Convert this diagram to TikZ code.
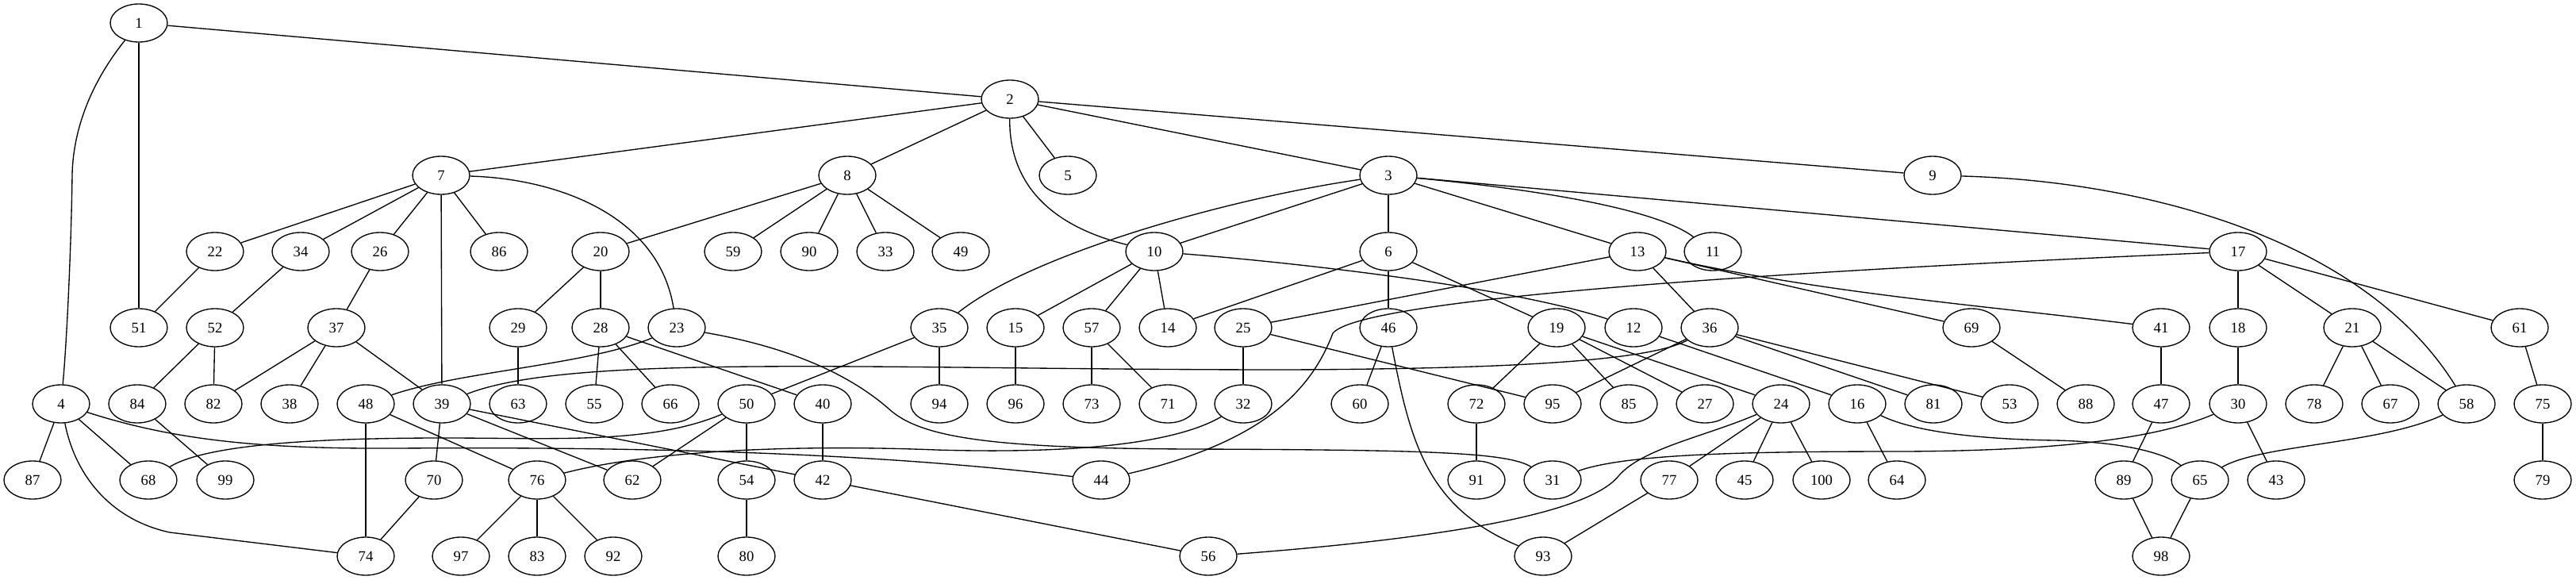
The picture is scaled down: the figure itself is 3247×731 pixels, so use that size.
\documentclass[tikz,border=0pt]{standalone}
\usepackage{fontspec}
\setmainfont{Liberation Serif}
\usetikzlibrary{shapes, positioning}

\begin{document}
\begin{tikzpicture}
  [x=0.75pt, y=-0.75pt, line width=1pt,
  vert/.style={ellipse,draw,minimum width=54pt,minimum height=36pt,inner sep=0pt,
    font=\fontsize{14}{16}\selectfont}]

  \useasboundingbox (0,0) rectangle (3247,731);
  \fill[white] (0,0) rectangle (3247,731);

  % rank 0 - 2
  \node[vert] (n1) at (175,29) {1};
  \node[vert] (n2) at (1273,125) {2};
  \node[vert] (n7) at (556,221) {7};
  \node[vert] (n8) at (1068,221) {8};
  \node[vert] (n5) at (1346,221) {5};
  \node[vert] (n3) at (1750,221) {3};
  \node[vert] (n9) at (2436,221) {9};

  % rank 3
  \node[vert] (n22) at (271,317) {22};
  \node[vert] (n34) at (379,317) {34};
  \node[vert] (n26) at (479,317) {26};
  \node[vert] (n86) at (629,317) {86};
  \node[vert] (n20) at (757,317) {20};
  \node[vert] (n59) at (924,317) {59};
  \node[vert] (n90) at (1020,317) {90};
  \node[vert] (n33) at (1116,317) {33};
  \node[vert] (n49) at (1211,317) {49};
  \node[vert] (n10) at (1455,317) {10};
  \node[vert] (n6) at (1750,317) {6};
  \node[vert] (n13) at (2064,317) {13};
  \node[vert] (n11) at (2159,317) {11};
  \node[vert] (n17) at (2821,317) {17};

  % rank 4
  \node[vert] (n51) at (175,413) {51};
  \node[vert] (n52) at (271,413) {52};
  \node[vert] (n37) at (424,413) {37};
  \node[vert] (n29) at (653,413) {29};
  \node[vert] (n28) at (757,413) {28};
  \node[vert] (n23) at (853,413) {23};
  \node[vert] (n35) at (1184,413) {35};
  \node[vert] (n15) at (1280,413) {15};
  \node[vert] (n57) at (1376,413) {57};
  \node[vert] (n14) at (1472,413) {14};
  \node[vert] (n25) at (1567,413) {25};
  \node[vert] (n46) at (1750,413) {46};
  \node[vert] (n19) at (1962,413) {19};
  \node[vert] (n12) at (2059,413) {12};
  \node[vert] (n36) at (2155,413) {36};
  \node[vert] (n69) at (2485,413) {69};
  \node[vert] (n41) at (2724,413) {41};
  \node[vert] (n18) at (2821,413) {18};
  \node[vert] (n21) at (2965,413) {21};
  \node[vert] (n61) at (3176,413) {61};

  % rank 5
  \node[vert] (n4) at (77,509) {4};
  \node[vert] (n84) at (173,509) {84};
  \node[vert] (n82) at (269,509) {82};
  \node[vert] (n38) at (365,509) {38};
  \node[vert] (n48) at (461,509) {48};
  \node[vert] (n39) at (557,509) {39};
  \node[vert] (n63) at (653,509) {63};
  \node[vert] (n55) at (749,509) {55};
  \node[vert] (n66) at (845,509) {66};
  \node[vert] (n50) at (941,509) {50};
  \node[vert] (n40) at (1037,509) {40};
  \node[vert] (n94) at (1184,509) {94};
  \node[vert] (n96) at (1280,509) {96};
  \node[vert] (n73) at (1376,509) {73};
  \node[vert] (n71) at (1472,509) {71};
  \node[vert] (n32) at (1567,509) {32};
  \node[vert] (n60) at (1714,509) {60};
  \node[vert] (n72) at (1861,509) {72};
  \node[vert] (n95) at (1957,509) {95};
  \node[vert] (n85) at (2053,509) {85};
  \node[vert] (n27) at (2149,509) {27};
  \node[vert] (n24) at (2245,509) {24};
  \node[vert] (n16) at (2341,509) {16};
  \node[vert] (n81) at (2437,509) {81};
  \node[vert] (n53) at (2533,509) {53};
  \node[vert] (n88) at (2629,509) {88};
  \node[vert] (n47) at (2724,509) {47};
  \node[vert] (n30) at (2821,509) {30};
  \node[vert] (n78) at (2917,509) {78};
  \node[vert] (n67) at (3013,509) {67};
  \node[vert] (n58) at (3109,509) {58};
  \node[vert] (n75) at (3205,509) {75};

  % rank 6
  \node[vert] (n87) at (41,605) {87};
  \node[vert] (n68) at (187,605) {68};
  \node[vert] (n99) at (284,605) {99};
  \node[vert] (n70) at (547,605) {70};
  \node[vert] (n76) at (677,605) {76};
  \node[vert] (n62) at (797,605) {62};
  \node[vert] (n54) at (941,605) {54};
  \node[vert] (n42) at (1037,605) {42};
  \node[vert] (n44) at (1388,605) {44};
  \node[vert] (n91) at (1861,605) {91};
  \node[vert] (n31) at (1957,605) {31};
  \node[vert] (n77) at (2104,605) {77};
  \node[vert] (n45) at (2199,605) {45};
  \node[vert] (n100) at (2296,605) {100};
  \node[vert] (n64) at (2391,605) {64};
  \node[vert] (n89) at (2677,605) {89};
  \node[vert] (n65) at (2773,605) {65};
  \node[vert] (n43) at (2869,605) {43};
  \node[vert] (n79) at (3205,605) {79};

  % rank 7
  \node[vert] (n74) at (461,701) {74};
  \node[vert] (n97) at (581,701) {97};
  \node[vert] (n83) at (677,701) {83};
  \node[vert] (n92) at (773,701) {92};
  \node[vert] (n80) at (941,701) {80};
  \node[vert] (n56) at (1523,701) {56};
  \node[vert] (n93) at (1945,701) {93};
  \node[vert] (n98) at (2724,701) {98};

  % straight edges
  \draw (n1) edge (n2) edge (n51);
  \draw (n2) edge (n7) edge (n8) edge (n5) edge (n3) edge (n9);
  \draw (n7) edge (n22) edge (n34) edge (n26) edge (n86) edge (n39);
  \draw (n8) edge (n20) edge (n59) edge (n90) edge (n33) edge (n49);
  \draw (n3) edge (n10) edge (n6) edge (n13) edge (n17);
  \draw (n22) edge (n51); \draw (n34) edge (n52); \draw (n26) edge (n37);
  \draw (n20) edge (n29) edge (n28);
  \draw (n29) edge (n63);
  \draw (n28) edge (n55) edge (n66) edge (n40);
  \draw (n35) edge (n50) edge (n94);
  \draw (n10) edge (n15) edge (n57) edge (n14);
  \draw (n6) edge (n14) edge (n46) edge (n19);
  \draw (n13) edge (n25) edge (n36) edge (n69);
  \draw (n17) edge (n18) edge (n21) edge (n61);
  \draw (n52) edge (n84) edge (n82);
  \draw (n37) edge (n82) edge (n38) edge (n39);
  \draw (n36) edge (n95) edge (n81) edge (n53);
  \draw (n25) edge (n32) edge (n95);
  \draw (n46) edge (n60);
  \draw (n19) edge (n72) edge (n85) edge (n27) edge (n24);
  \draw (n12) edge (n16); \draw (n69) edge (n88);
  \draw (n41) edge (n47); \draw (n18) edge (n30);
  \draw (n21) edge (n78) edge (n67) edge (n58);
  \draw (n61) edge (n75);
  \draw (n4) edge (n87) edge (n68);
  \draw (n48) edge (n74) edge (n76);
  \draw (n39) edge (n70) edge (n62) edge (n42);
  \draw (n70) edge (n74);
  \draw (n50) edge (n62) edge (n54);
  \draw (n40) edge (n42); \draw (n54) edge (n80);
  \draw (n76) edge (n97) edge (n83) edge (n92);
  \draw (n42) edge (n56); \draw (n84) edge (n99); \draw (n72) edge (n91);
  \draw (n24) edge (n77) edge (n45) edge (n100);
  \draw (n16) edge (n64); \draw (n30) edge (n43);
  \draw (n47) edge (n89); \draw (n89) edge (n98); \draw (n65) edge (n98);
  \draw (n75) edge (n79); \draw (n77) edge (n93);
  \draw (n57) edge (n73) edge (n71);
  \draw (n15) edge (n96);

  % curved edges
  \draw (n1) .. controls (110,110) and (92,170) .. (91,220)
    .. controls (90,300) and (85,420) .. (n4);
  \draw (n2) .. controls (1272,215) and (1305,280) .. (n10);
  \draw (n7) .. controls (700,225) and (830,270) .. (n23);
  \draw (n3) .. controls (1550,250) and (1300,320) .. (n35);
  \draw (n3) .. controls (1950,240) and (2090,265) .. (n11);
  \draw (n10) .. controls (1620,330) and (1900,360) .. (n12);
  \draw (n13) .. controls (2300,370) and (2500,385) .. (n41);
  \draw (n9) .. controls (2700,228) and (2980,300) .. (n58);
  \draw (n17) .. controls (2400,335) and (1720,370) .. (1680,420)
    .. controls (1650,500) and (1580,560) .. (n44);
  \draw (n23) .. controls (1010,440) and (1080,480) .. (1120,515)
    .. controls (1160,552) and (1250,565) .. (1500,566)
    .. controls (1800,567) and (1900,570) .. (n31);
  \draw (n23) .. controls (740,460) and (580,468) .. (n48);
  \draw (n36) .. controls (2080,455) and (1900,465) .. (1620,466)
    .. controls (1100,466) and (720,445) .. (n39);
  \draw (n4) .. controls (95,600) and (140,655) .. (214,671) -- (n74);
  \draw (n4) .. controls (220,555) and (330,566) .. (500,565)
    .. controls (800,563) and (1100,570) .. (n44);
  \draw (n50) .. controls (820,560) and (700,552) .. (560,552)
    .. controls (400,552) and (260,560) .. (n68);
  \draw (n76) .. controls (820,568) and (1000,560) .. (1180,567)
    .. controls (1350,572) and (1480,560) .. (n32);
  \draw (n46) .. controls (1778,560) and (1800,640) .. (n93);
  \draw (n24) .. controls (2150,550) and (2070,565) .. (2040,600)
    .. controls (2000,650) and (1800,680) .. (n56);
  \draw (n30) .. controls (2720,552) and (2600,568) .. (2400,569)
    .. controls (2200,569) and (2050,572) .. (n31);
  \draw (n16) .. controls (2420,548) and (2520,554) .. (2590,555)
    .. controls (2680,557) and (2730,572) .. (n65);
  \draw (n58) .. controls (3000,560) and (2850,560) .. (n65);

\end{tikzpicture}
\end{document}
